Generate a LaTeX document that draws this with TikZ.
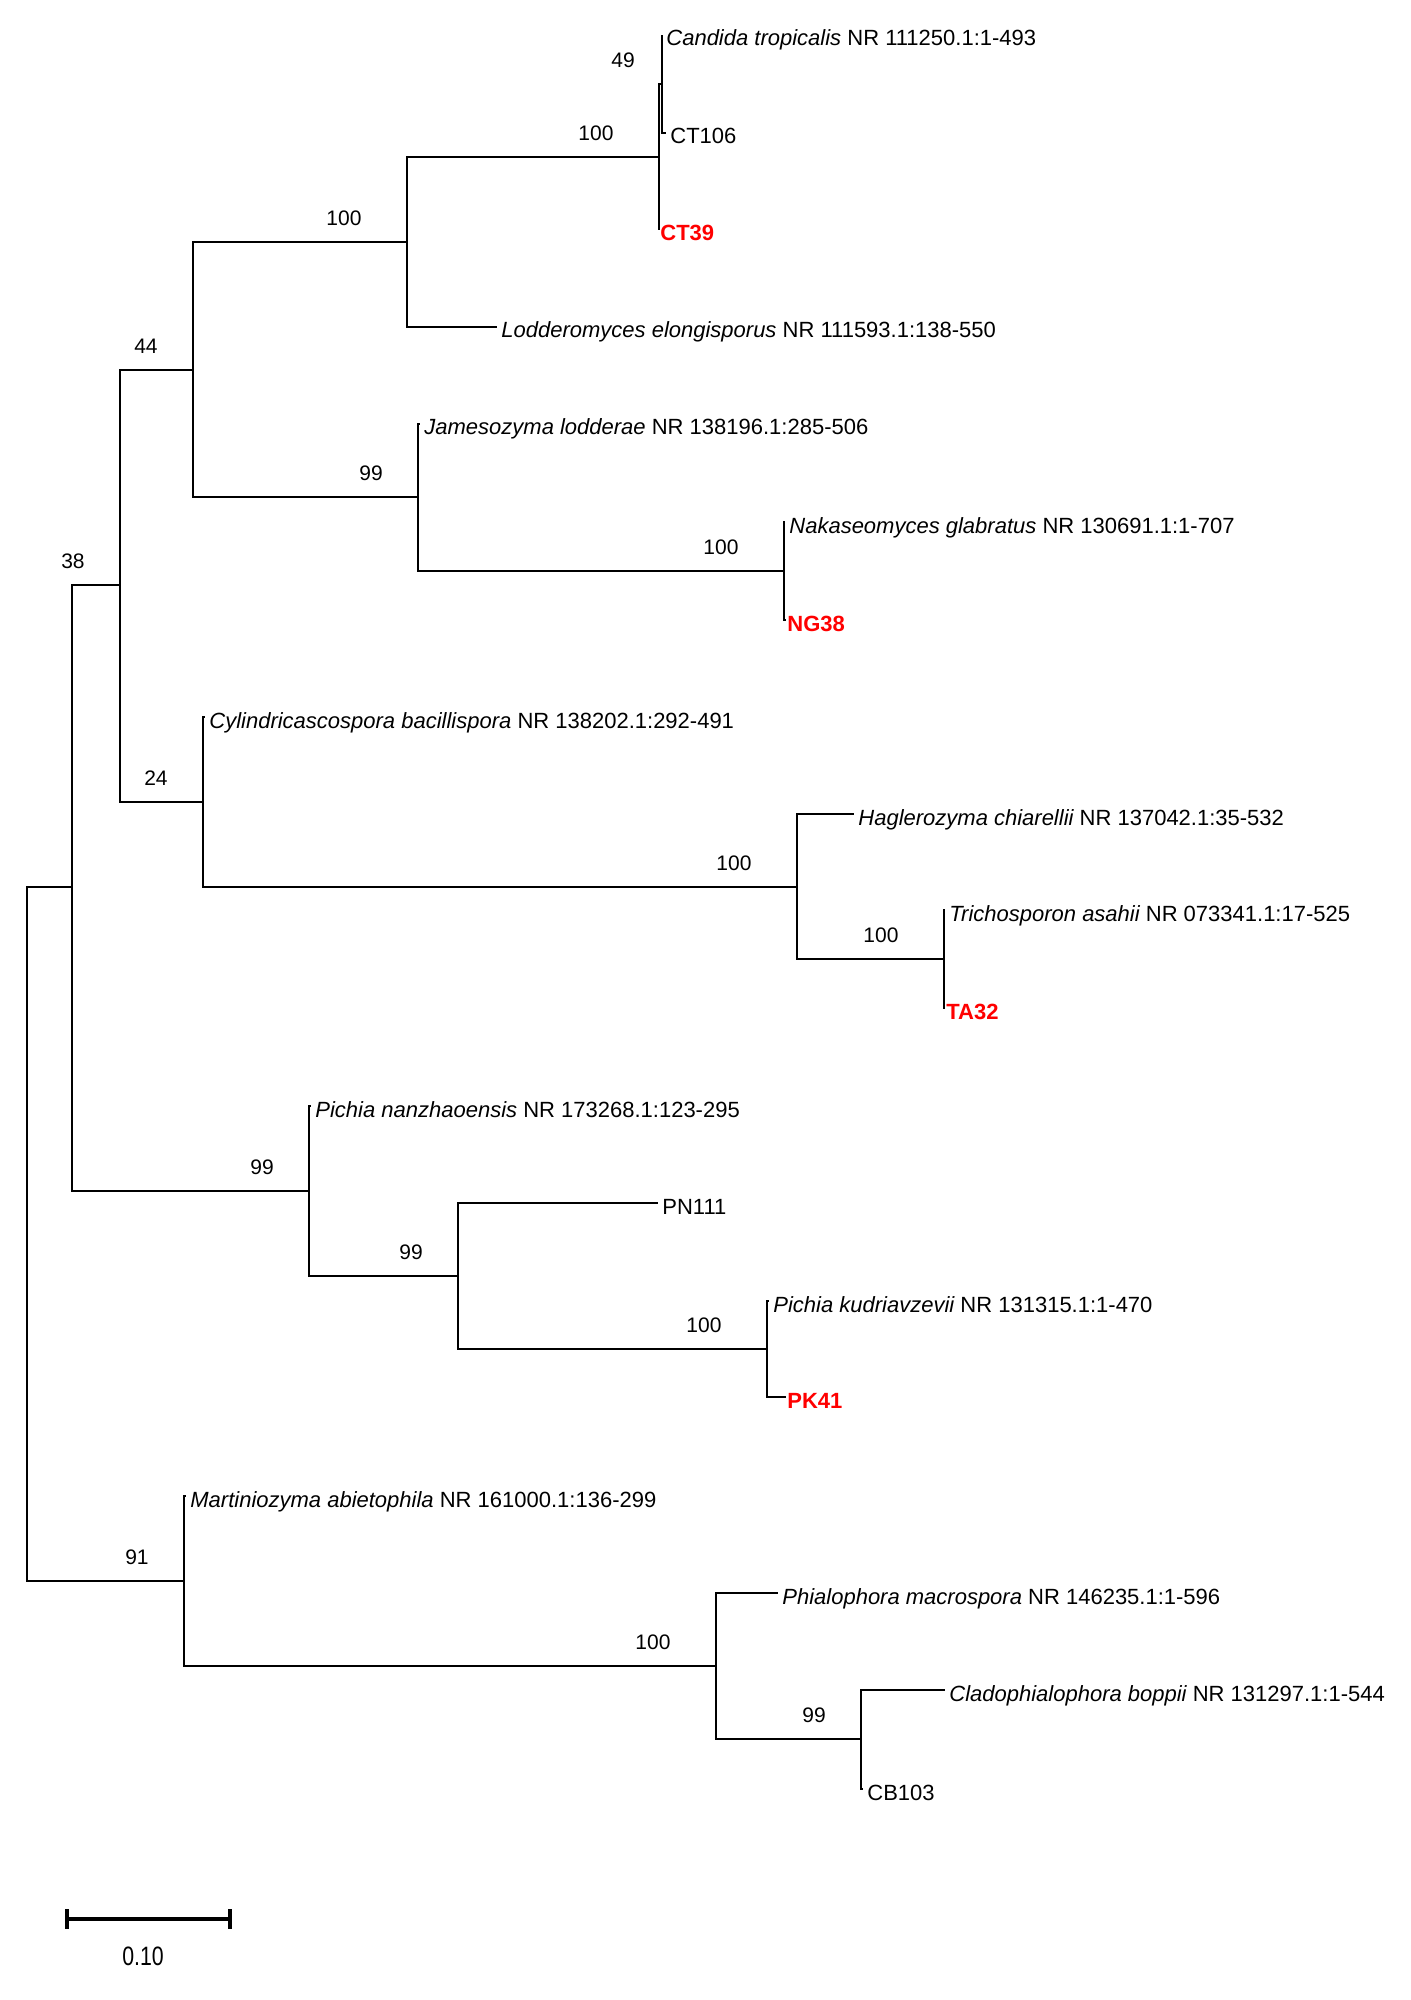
\documentclass[tikz,border=0pt]{standalone}
\usepackage{fontspec}
\setmainfont{Liberation Sans}
\newfontfamily\narrowfont[FakeStretch=0.8]{Liberation Sans}
\usepackage{tikz}
\tikzset{ branch/.style = {line width=1pt} }
\tikzset{ scalebar/.style = {line width=2pt} }
\tikzset{ leaf/.style = {anchor=base west, inner sep=0pt, xshift=2pt, yshift=-5.5pt, font=\fontsize{11}{13}\selectfont} }
\tikzset{ strain/.style = {leaf, xshift=-1.5pt, text=red, font=\fontsize{11}{13}\selectfont\bfseries} }
\tikzset{ boot/.style = {inner sep=0pt, xshift=-23.5pt, yshift=12pt, font=\fontsize{10.5}{12}\selectfont} }
\tikzset{ bootw/.style = {boot, xshift=-8pt} }

\begin{document}
\begin{tikzpicture}[x=0.5pt, y=-0.5pt]
    \useasboundingbox (0,0) rectangle (1410,2000);
    % inner nodes
    \coordinate (r) at (27,1234);
    \coordinate (nA) at (72,887);
    \coordinate (n38) at (120,585);
    \coordinate (n44) at (193,370);
    \coordinate (nC) at (407,242);
    \coordinate (nCT) at (659,157);
    \coordinate (n49) at (662,84);
    \coordinate (nJ) at (418,497);
    \coordinate (nNG) at (784,571);
    \coordinate (n24) at (203,802);
    \coordinate (nHT) at (797,887);
    \coordinate (nTA) at (944,959);
    \coordinate (nP) at (309,1191);
    \coordinate (nPN) at (458,1276);
    \coordinate (nPK) at (767,1349);
    \coordinate (n91) at (184,1581);
    \coordinate (nPh) at (716,1666);
    \coordinate (nCB) at (861,1739);
    % leaves
    \coordinate (lCan) at (662,35);
    \coordinate (lCT106) at (666,133);
    \coordinate (lCT39) at (659,230);
    \coordinate (lLod) at (497,327);
    \coordinate (lJam) at (420,424);
    \coordinate (lNak) at (785,522);
    \coordinate (lNG38) at (786,620);
    \coordinate (lCyl) at (205,717);
    \coordinate (lHag) at (854,814);
    \coordinate (lTri) at (945,910);
    \coordinate (lTA32) at (945,1008);
    \coordinate (lPna) at (311,1106);
    \coordinate (lPN) at (658,1203);
    \coordinate (lPku) at (769,1301);
    \coordinate (lPK41) at (786,1397);
    \coordinate (lMar) at (186,1496);
    \coordinate (lPhi) at (778,1593);
    \coordinate (lCla) at (945,1690);
    \coordinate (lCB) at (863,1789);
    % branches
    \draw[branch] (r) |- (nA) (r) |- (n91);
    \draw[branch] (nA) |- (n38) (nA) |- (nP);
    \draw[branch] (n38) |- (n44) (n38) |- (n24);
    \draw[branch] (n44) |- (nC) (n44) |- (nJ);
    \draw[branch] (nC) |- (nCT) (nC) |- (lLod);
    \draw[branch] (nCT) |- (n49) (nCT) |- (lCT39);
    \draw[branch] (n49) |- (lCan) (n49) |- (lCT106);
    \draw[branch] (nJ) |- (lJam) (nJ) |- (nNG);
    \draw[branch] (nNG) |- (lNak) (nNG) |- (lNG38);
    \draw[branch] (n24) |- (lCyl) (n24) |- (nHT);
    \draw[branch] (nHT) |- (lHag) (nHT) |- (nTA);
    \draw[branch] (nTA) |- (lTri) (nTA) |- (lTA32);
    \draw[branch] (nP) |- (lPna) (nP) |- (nPN);
    \draw[branch] (nPN) |- (lPN) (nPN) |- (nPK);
    \draw[branch] (nPK) |- (lPku) (nPK) |- (lPK41);
    \draw[branch] (n91) |- (lMar) (n91) |- (nPh);
    \draw[branch] (nPh) |- (lPhi) (nPh) |- (nCB);
    \draw[branch] (nCB) |- (lCla) (nCB) |- (lCB);
    % taxon labels
    \node[leaf] (tCan) at (lCan) {\itshape Candida tropicalis\upshape\ NR 111250.1:1-493};
    \node[leaf] (tCT106) at (lCT106) {CT106};
    \node[strain] (tCT39) at (lCT39) {CT39};
    \node[leaf] (tLod) at (lLod) {\itshape Lodderomyces elongisporus\upshape\ NR 111593.1:138-550};
    \node[leaf] (tJam) at (lJam) {\itshape Jamesozyma lodderae\upshape\ NR 138196.1:285-506};
    \node[leaf] (tNak) at (lNak) {\itshape Nakaseomyces glabratus\upshape\ NR 130691.1:1-707};
    \node[strain] (tNG38) at (lNG38) {NG38};
    \node[leaf] (tCyl) at (lCyl) {\itshape Cylindricascospora bacillispora\upshape\ NR 138202.1:292-491};
    \node[leaf] (tHag) at (lHag) {\itshape Haglerozyma chiarellii\upshape\ NR 137042.1:35-532};
    \node[leaf] (tTri) at (lTri) {\itshape Trichosporon asahii\upshape\ NR 073341.1:17-525};
    \node[strain] (tTA32) at (lTA32) {TA32};
    \node[leaf] (tPna) at (lPna) {\itshape Pichia nanzhaoensis\upshape\ NR 173268.1:123-295};
    \node[leaf] (tPN) at (lPN) {PN111};
    \node[leaf] (tPku) at (lPku) {\itshape Pichia kudriavzevii\upshape\ NR 131315.1:1-470};
    \node[strain] (tPK41) at (lPK41) {PK41};
    \node[leaf] (tMar) at (lMar) {\itshape Martiniozyma abietophila\upshape\ NR 161000.1:136-299};
    \node[leaf] (tPhi) at (lPhi) {\itshape Phialophora macrospora\upshape\ NR 146235.1:1-596};
    \node[leaf] (tCla) at (lCla) {\itshape Cladophialophora boppii\upshape\ NR 131297.1:1-544};
    \node[leaf] (tCB) at (lCB) {CB103};
    % bootstrap values
    \node[boot, xshift=4pt] (b49) at (n49) {49};
    \node[bootw] (bCT) at (nCT) {100};
    \node[bootw] (bC) at (nC) {100};
    \node[boot] (b44) at (n44) {44};
    \node[boot] (b38) at (n38) {38};
    \node[boot] (bJ) at (nJ) {99};
    \node[bootw] (bNG) at (nNG) {100};
    \node[boot] (b24) at (n24) {24};
    \node[bootw] (bHT) at (nHT) {100};
    \node[bootw] (bTA) at (nTA) {100};
    \node[boot] (bP) at (nP) {99};
    \node[boot] (bPN) at (nPN) {99};
    \node[bootw] (bPK) at (nPK) {100};
    \node[boot] (b91) at (n91) {91};
    \node[bootw] (bPh) at (nPh) {100};
    \node[boot] (bCB) at (nCB) {99};
    % scale bar
    \coordinate (s0) at (67,1919);
    \coordinate (s1) at (230,1919);
    \draw[scalebar] (s0) -- (s1);
    \draw[scalebar] ([yshift=5pt]s0) -- ([yshift=-5pt]s0);
    \draw[scalebar] ([yshift=5pt]s1) -- ([yshift=-5pt]s1);
    \node[inner sep=0pt, font=\narrowfont\fontsize{13.3}{15}\selectfont] (sl) at (143,1956) {0.10};
\end{tikzpicture}
\end{document}
